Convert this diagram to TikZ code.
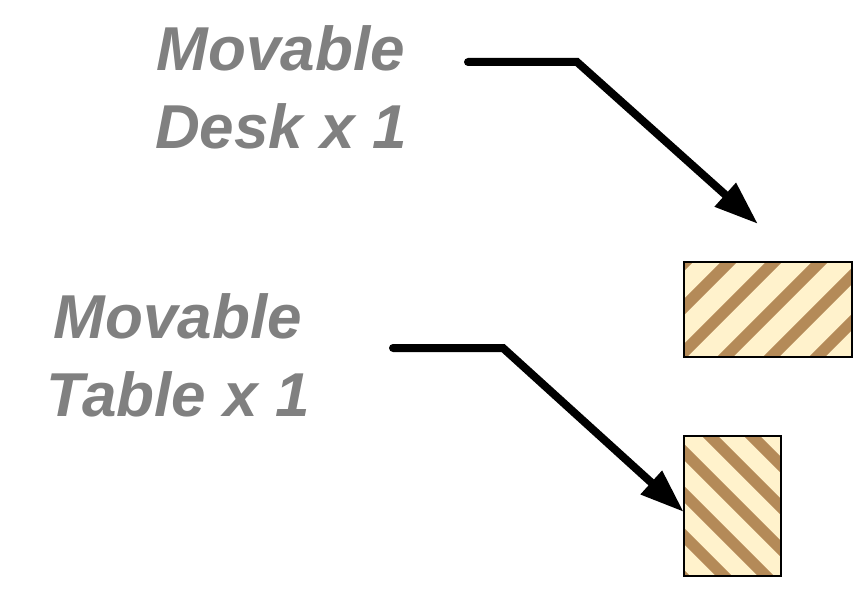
\documentclass[tikz,border=0pt]{standalone}
\usepackage{fontspec}
\setmainfont{Liberation Sans}
\usetikzlibrary{arrows.meta}
\definecolor{stripebrown}{RGB}{180,138,88}
\definecolor{woodcream}{RGB}{255,242,204}
\definecolor{labelgray}{RGB}{128,128,128}
\tikzset{
  labeltext/.style={text=labelgray, font=\fontsize{62}{78}\selectfont\bfseries\itshape, align=center, inner sep=0pt},
  furniture/.style={fill=woodcream, inner sep=0pt},
  outline/.style={draw=black, line width=1.5pt},
  stripeline/.style={draw=stripebrown, line width=11.5pt},
  pointer/.style={draw=black, line width=8pt, line cap=round, -{Triangle[length=44pt,width=30pt]}}
}
\begin{document}
\begin{tikzpicture}[x=1pt,y=-1pt]
\path[use as bounding box, fill=white] (0,0) rectangle (855,591);

% furniture
\node[furniture, minimum width=168pt, minimum height=95pt] (desk) at (768,309.5) {};
\node[furniture, minimum width=97pt, minimum height=140pt] (table) at (732.5,506) {};

\begin{scope}
  \clip (desk.south west) rectangle (desk.north east);
  \foreach \c in {901,947,991,1036,1082,1128,1174,1220}
    \draw[stripeline] (\c-420,420) -- (\c-200,200);
\end{scope}
\begin{scope}
  \clip (table.south west) rectangle (table.north east);
  \foreach \d in {358,316,274,232,190,148,106,64}
    \draw[stripeline] (\d+420,420) -- (\d+600,600);
\end{scope}
\draw[outline] (desk.south west) rectangle (desk.north east);
\draw[outline] (table.south west) rectangle (table.north east);

% labels
\node[labeltext] (desklabel) at (281,87) {Movable\\Desk x 1};
\node[labeltext] (tablelabel) at (178,355) {Movable\\Table x 1};

% connectors
\coordinate (deskstart) at (468,62);
\coordinate (deskbend) at (577,62);
\coordinate (desktip) at (758,224);
\coordinate (tablestart) at (393,348);
\coordinate (tablebend) at (503,348);
\coordinate (tabletip) at ([yshift=-6pt]table.west);

\draw[pointer] (deskstart) -- (deskbend) -- (desktip);
\draw[pointer] (tablestart) -- (tablebend) -- (tabletip);
\end{tikzpicture}
\end{document}
